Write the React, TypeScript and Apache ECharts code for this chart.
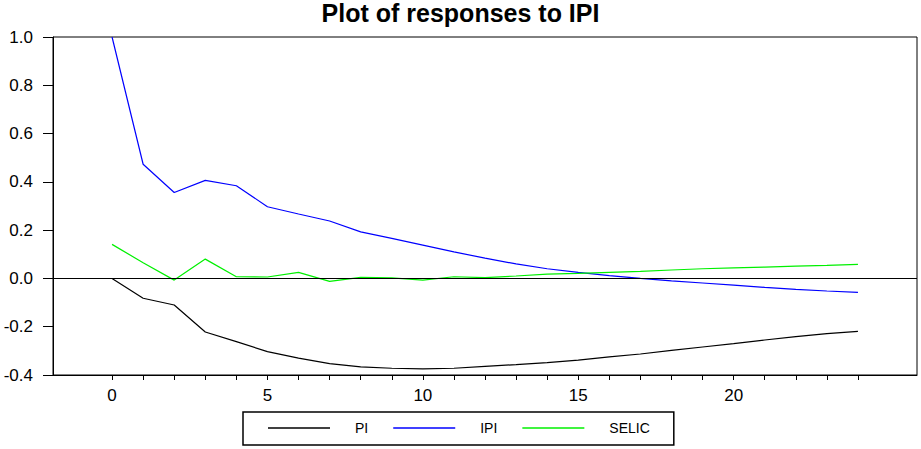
import React, { useEffect, useRef } from "react";
import * as echarts from "echarts";

const periods = [0, 1, 2, 3, 4, 5, 6, 7, 8, 9, 10, 11, 12, 13, 14, 15, 16, 17, 18, 19, 20, 21, 22, 23, 24];
const piValues = [0, -0.082, -0.11, -0.222, -0.262, -0.303, -0.33, -0.353, -0.366, -0.372, -0.375, -0.372, -0.364, -0.357, -0.349, -0.338, -0.325, -0.313, -0.298, -0.284, -0.27, -0.255, -0.241, -0.229, -0.219];
const ipiValues = [1.0, 0.473, 0.356, 0.406, 0.384, 0.297, 0.267, 0.238, 0.193, 0.166, 0.138, 0.11, 0.084, 0.06, 0.04, 0.025, 0.012, 0.0, -0.01, -0.019, -0.028, -0.037, -0.045, -0.052, -0.058];
const selicValues = [0.141, 0.065, -0.007, 0.08, 0.007, 0.006, 0.025, -0.012, 0.004, 0.002, -0.007, 0.007, 0.003, 0.01, 0.018, 0.021, 0.025, 0.029, 0.035, 0.04, 0.044, 0.047, 0.051, 0.054, 0.058];
const xLabelValues = [0, 5, 10, 15, 20];
const seriesNames = ["PI", "IPI", "SELIC"];
const titleText = "Plot of responses to IPI";

export default function App() {
  const ref = useRef<HTMLDivElement>(null);
  useEffect(() => {
    if (!ref.current) return;
    const chart = echarts.init(ref.current, null, { renderer: "svg" });
    const pair = (vals: number[]) => periods.map((p, i) => [p, vals[i]]);
    const font = "Arial, 'Liberation Sans', sans-serif";
    const mk = (name: string, vals: number[], color: string, extra: any = {}) => ({
      name,
      type: "line",
      data: pair(vals),
      symbol: "none",
      lineStyle: { color, width: 1.2 },
      itemStyle: { color },
      ...extra,
    });
    chart.setOption({
      animation: false,
      backgroundColor: "#ffffff",
      title: {
        text: titleText,
        left: "center",
        top: 0,
        padding: 0,
        textStyle: { fontSize: 25, fontWeight: "bold", color: "#000", fontFamily: font },
      },
      grid: {
        left: 53,
        right: 4,
        top: 37,
        bottom: 74,
        show: true,
        borderColor: "#000",
        borderWidth: 1,
        containLabel: false,
      },
      xAxis: {
        type: "value",
        min: -1.9,
        max: 25.9,
        axisLine: { show: true, onZero: false, lineStyle: { color: "#000", width: 1 } },
        axisTick: {
          show: true,
          length: 5,
          customValues: periods,
          lineStyle: { color: "#000" },
        },
        axisLabel: {
          customValues: xLabelValues,
          color: "#000",
          fontSize: 17,
          fontFamily: font,
          margin: 12,
        },
        splitLine: { show: false },
      },
      yAxis: {
        type: "value",
        min: -0.4,
        max: 1.0,
        interval: 0.2,
        axisLine: { show: true, onZero: false, lineStyle: { color: "#000", width: 1 } },
        axisTick: { show: true, length: 10, lineStyle: { color: "#000" } },
        axisLabel: {
          color: "#000",
          fontSize: 17,
          fontFamily: font,
          margin: 20,
          formatter: (v: number) => v.toFixed(1),
        },
        splitLine: { show: false },
      },
      legend: {
        data: seriesNames,
        left: 243,
        top: 412,
        orient: "horizontal",
        padding: [9, 24, 10, 25],
        borderColor: "#000",
        borderWidth: 1.5,
        icon: "rect",
        itemWidth: 62,
        itemHeight: 1.3,
        itemGap: 25,
        textStyle: { fontSize: 14, color: "#000", fontFamily: font, padding: [0, 0, 0, 20] },
      },
      series: [
        mk(seriesNames[0], piValues, "#000000", {
          markLine: {
            silent: true,
            symbol: "none",
            label: { show: false },
            lineStyle: { color: "#000", type: "solid", width: 1 },
            data: [{ yAxis: 0 }],
          },
        }),
        mk(seriesNames[1], ipiValues, "#0000ff"),
        mk(seriesNames[2], selicValues, "#00f000"),
      ],
    });
    return () => chart.dispose();
  }, []);
  return (
    <div
      ref={ref}
      style={{ position: "fixed", left: 0, top: 0, width: 921, height: 449 }}
    />
  );
}
